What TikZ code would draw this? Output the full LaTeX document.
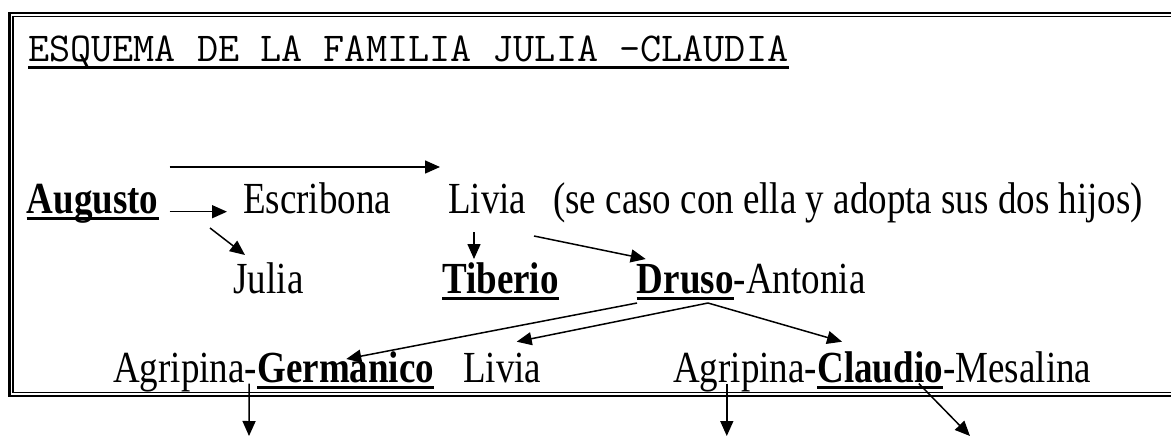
\documentclass[tikz,border=0pt]{standalone}
\usepackage{fontspec}
\setmainfont{Liberation Serif}
\usetikzlibrary{arrows.meta}

\begin{document}
\begin{tikzpicture}[
  x=1pt, y=-1pt,
  txt/.style={inner sep=0pt, anchor=base west, yscale=1.2, font=\fontsize{37}{40}\selectfont},
  bold/.style={txt, font=\fontsize{37}{40}\selectfont\bfseries},
  arr/.style={-{Triangle[length=15pt,width=13pt]}, line width=1.5pt},
  uline/.style={line width=3pt}
]
  \useasboundingbox (0,0) rectangle (1171,437);
  % double frame, open to the right
  \begin{scope}
    \clip (0,0) rectangle (1171,437);
    \draw[line width=2.5pt] (9.5,12.8) rectangle (1200,396);
    \draw[line width=1.3pt] (13,16.3) rectangle (1200,392.5);
  \end{scope}

  \node[inner sep=0pt, anchor=base west, font=\ttfamily\fontsize{41}{42}\selectfont] (title) at (28,61)
    {ESQUEMA DE LA FAMILIA JULIA –CLAUDIA};
  \draw[uline] ([shift={(0,6.5)}]title.base west) -- ([shift={(0,6.5)}]title.base east);

  % first row
  \node[bold] (aug) at (26.7,213) {Augusto};
  \node[txt] (esc) at (243,213) {Escribona};
  \node[txt] (liv) at (448,213) {Livia};
  \node[txt] (note) at (553,213) {(se caso con ella y adopta sus dos hijos)};
  % second row
  \node[txt] (jul) at (233.4,293) {Julia};
  \node[bold] (tib) at (442,293) {Tiberio};
  \node[bold] (dru) at (636.7,293) {Druso};
  \node[txt] (ant) at (dru.base east) {-Antonia};
  % third row
  \node[txt] (agr) at (113,382) {Agripina-};
  \node[bold] (ger) at (agr.base east) {Germanico};
  \node[txt] (liv2) at (463,382) {Livia};
  \node[txt] (agr2) at (673,382) {Agripina-};
  \node[bold] (cla) at (agr2.base east) {Claudio};
  \node[txt] (mes) at (cla.base east) {-Mesalina};

  \foreach \n in {aug,tib,dru,ger,cla}
    \draw[uline] ([shift={(0,5.5)}]\n.base west) -- ([shift={(0,5.5)}]\n.base east);

  \coordinate (out1) at (249,436);
  \coordinate (out2) at (726.8,436);
  \coordinate (out3) at (970,436);

  \draw[arr] ([xshift=11pt]aug.east |- 0,167) -- ([xshift=-8pt]liv.west |- 0,167);
  \draw[arr] ([shift={(11,-1.3)}]aug.base east) -- ([shift={(-16,-1.3)}]esc.base west);
  \draw[arr] ([shift={(51.3,15)}]aug.base east) -- ([shift={(11.6,-38)}]jul.base west);
  \draw[arr] ([shift={(26,19)}]liv.base west) -- ([shift={(32,-34)}]tib.base west);
  \draw[arr] ([shift={(86,23)}]liv.base west) -- ([shift={(9,-34)}]dru.base west);
  \draw[arr] ([shift={(0.3,10)}]dru.base west) -- ([shift={(89,-23)}]ger.base west);
  \draw[arr] ([shift={(71.3,10)}]dru.base west) -- ([shift={(53.7,-40.3)}]liv2.base west);
  \draw[arr] ([shift={(71.3,10)}]dru.base west) -- ([shift={(24.8,-40.3)}]cla.base west);
  \draw[arr] ([shift={(-8,1.5)}]agr.base east) -- (out1);
  \draw[arr] ([shift={(53.8,1.5)}]agr2.base west) -- (out2);
  \draw[arr] ([shift={(101.6,1.6)}]cla.base west) -- (out3);
\end{tikzpicture}
\end{document}
